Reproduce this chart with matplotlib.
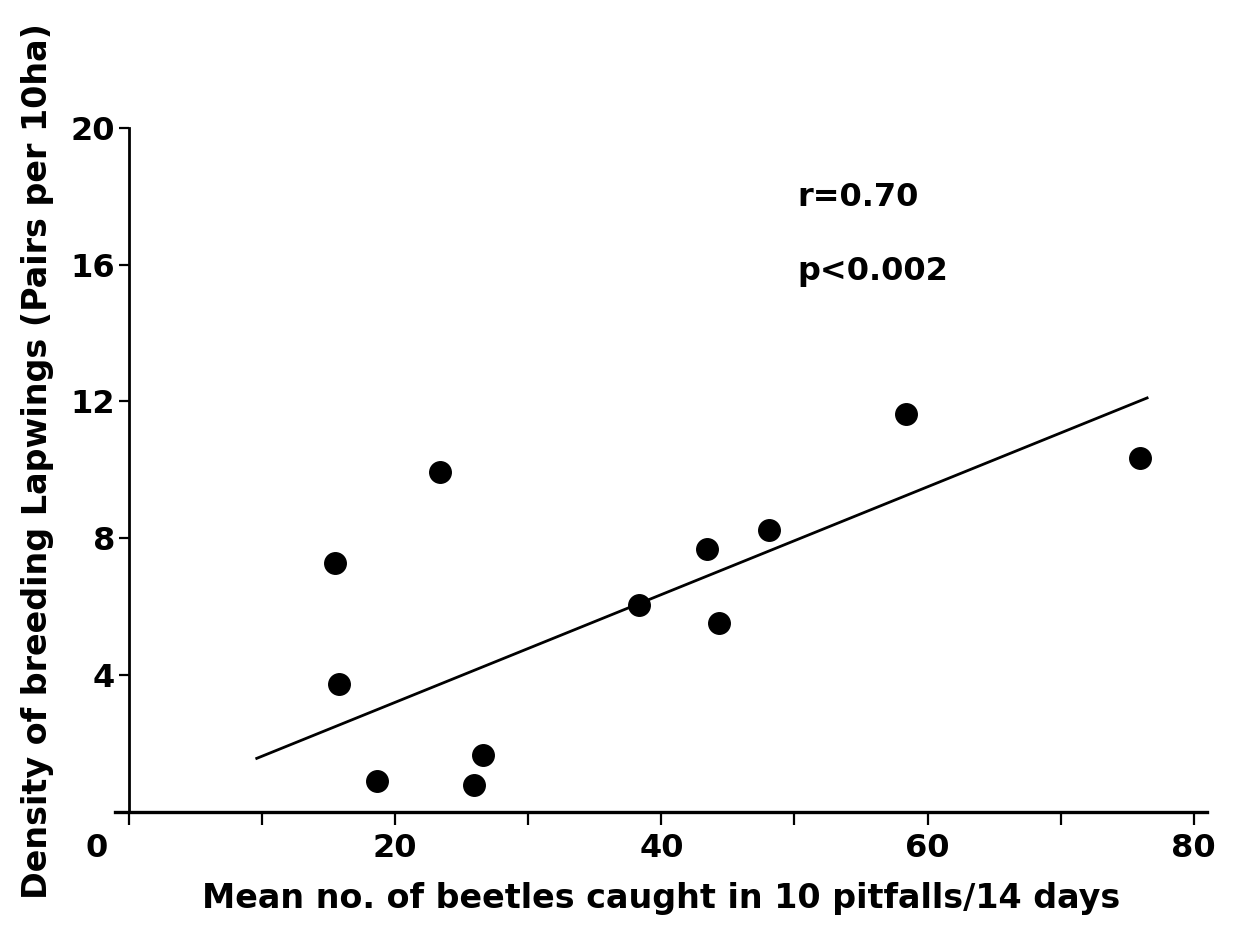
import matplotlib
import matplotlib.pyplot as plt
from matplotlib.transforms import ScaledTranslation

matplotlib.use('Agg')

# --- data --- #
beetles = [15.5, 15.8, 18.6, 23.4, 25.9, 26.6, 38.3, 43.4, 44.3, 48.1, 58.4, 76.0]
lapwings = [7.28, 3.74, 0.91, 9.94, 0.79, 1.67, 6.05, 7.69, 5.53, 8.25, 11.64, 10.35]

# regression line end points
fit_x = [9.6, 76.5]
fit_y = [1.56, 12.1]

x_ticks = [0, 10, 20, 30, 40, 50, 60, 70, 80]
x_labels = ['0', '', '20', '', '40', '', '60', '', '80']
y_ticks = [4, 8, 12, 16, 20]

stats_text = ['r=0.70', 'p<0.002']

# ----------------------------- #
plt.rcParams['font.family'] = ['DejaVu Sans']
plt.rcParams['font.weight'] = 'bold'
plt.rcParams['axes.labelweight'] = 'bold'

fig = plt.figure(figsize=(12.34, 9.26), dpi=100)
# x: -1.05 -> 115 px, 81 -> 1207 px ; y: 0 -> 811.7 px, 20.5 -> 110 px
ax = fig.add_axes([115 / 1234, (926 - 811.7) / 926, 1092 / 1234, 701 / 926])

ax.plot(fit_x, fit_y, color='black', lw=2.0)
ax.plot(beetles, lapwings, 'o', color='black', markersize=15.5)

ax.set_xlim(-1.05, 81)
ax.set_ylim(0, 20.5)

for side in ['top', 'right']:
    ax.spines[side].set_visible(False)
ax.spines['left'].set_position(('data', 0))
ax.spines['left'].set_bounds(0, 20)
ax.spines['left'].set_linewidth(2.0)
ax.spines['bottom'].set_linewidth(2.4)

ax.set_xticks(x_ticks)
ax.set_xticklabels(x_labels)
ax.set_yticks(y_ticks)
ax.tick_params(axis='x', direction='out', length=9, width=1.6, labelsize=23, pad=6)
ax.tick_params(axis='y', direction='out', length=7, width=1.6, labelsize=23, pad=3)

# the zero label sits left of its tick in the original
lbl0 = ax.get_xticklabels()[0]
lbl0.set_transform(lbl0.get_transform() + ScaledTranslation(-0.32, 0, fig.dpi_scale_trans))

ax.set_xlabel('Mean no. of beetles caught in 10 pitfalls/14 days', fontsize=24, labelpad=13)
ax.set_ylabel('Density of breeding Lapwings (Pairs per 10ha)', fontsize=24, labelpad=12)

ax.text(50.2, 17.95, stats_text[0], fontsize=23, va='center', ha='left')
ax.text(50.2, 15.8, stats_text[1], fontsize=23, va='center', ha='left')

plt.savefig('out.png', dpi=100)
